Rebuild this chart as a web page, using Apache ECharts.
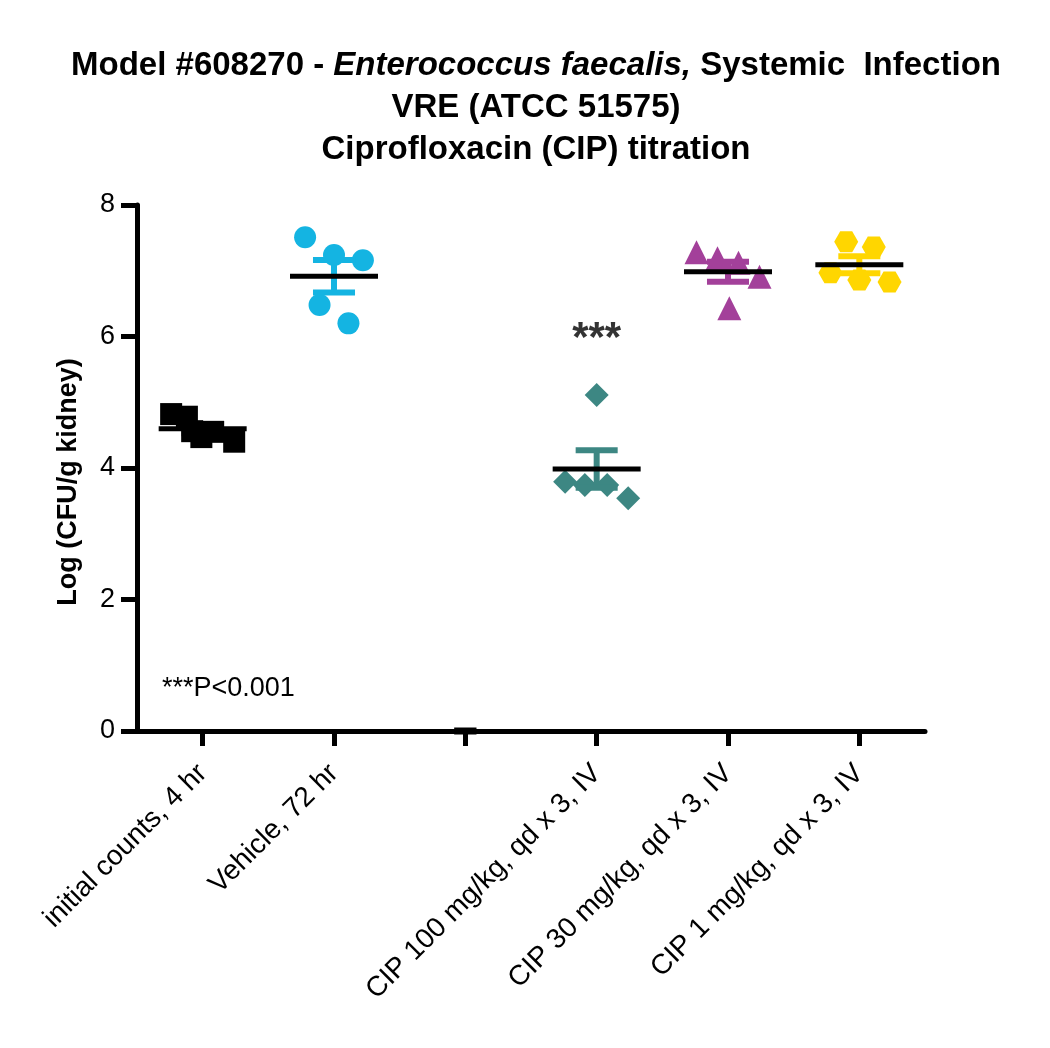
<!DOCTYPE html>
<html>
<head>
<meta charset="utf-8">
<script src="https://cdn.jsdelivr.net/npm/echarts@6/dist/echarts.min.js"></script>
<style>
    html, body { margin: 0; padding: 0; background: #fff; }
    #chart { width: 1050px; height: 1048px; }
</style>
</head>
<body>
<div id="chart"></div>
<script>
// groups on the x axis (third column is empty in the original)
var categories = ['initial counts, 4 hr', 'Vehicle, 72 hr', '', 'CIP 100 mg/kg, qd x 3, IV', 'CIP 30 mg/kg, qd x 3, IV', 'CIP 1 mg/kg, qd x 3, IV'];
var yTicks = [0, 2, 4, 6, 8];

// Log CFU/g kidney per animal
var initialCounts = [4.82, 4.78, 4.56, 4.47, 4.55, 4.40];
var vehicle = [7.51, 7.24, 7.16, 6.48, 6.20];
var emptyGroup = [];
var cip100 = [5.11, 3.79, 3.74, 3.74, 3.54];
var cip30 = [7.28, 7.19, 7.12, 6.91, 6.43];
var cip1 = [7.44, 7.36, 6.97, 6.86, 6.83];

// horizontal scatter offsets inside each column (in category widths)
var initialJitter = [-0.24, -0.12, -0.08, -0.01, 0.08, 0.24];
var vehicleJitter = [-0.22, 0, 0.22, -0.11, 0.11];
var cip100Jitter = [0, -0.24, -0.09, 0.08, 0.24];
var cip30Jitter = [-0.24, -0.08, 0.08, 0.24, 0.01];
var cip1Jitter = [-0.10, 0.11, -0.22, 0, 0.23];

var sigLabels = ['', '', '', '***', '', ''];

var groups = [initialCounts, vehicle, emptyGroup, cip100, cip30, cip1];
var jitters = [initialJitter, vehicleJitter, [], cip100Jitter, cip30Jitter, cip1Jitter];
var colors = ['#000000', '#14B4E2', '#000000', '#3D8783', '#A3409A', '#FFD600'];
var symbols = ['rect', 'circle', 'rect', 'diamond', 'triangle', 'path://M0,50 L25,7 L75,7 L100,50 L75,93 L25,93 Z'];
var sizes = [22, 22, 22, 24, 24, [24, 21]];

var font = 'Liberation Sans, Arial, sans-serif';

function mean(a) {
    if (a.length == 0) return 0;
    var s = 0;
    for (var i = 0; i < a.length; i++) s += a[i];
    return s / a.length;
}
function sem(a) {
    if (a.length < 2) return 0;
    var m = mean(a), ss = 0;
    for (var i = 0; i < a.length; i++) ss += (a[i] - m) * (a[i] - m);
    return Math.sqrt(ss / (a.length - 1)) / Math.sqrt(a.length);
}

var series = [];
var summary = [];
for (var g = 0; g < groups.length; g++) {
    var pts = [];
    for (var k = 0; k < groups[g].length; k++) {
        pts.push([g + jitters[g][k], groups[g][k]]);
    }
    series.push({
        name: categories[g],
        type: 'scatter',
        xAxisIndex: 1,
        symbol: symbols[g],
        symbolSize: sizes[g],
        itemStyle: {color: colors[g], opacity: 1},
        data: pts,
        z: 2
    });
    summary.push([g, mean(groups[g]), sem(groups[g]), groups[g].length]);
}

// mean line + SEM whiskers
series.push({
    type: 'custom',
    xAxisIndex: 1,
    clip: false,
    z: 3,
    data: summary,
    renderItem: function (params, api) {
        var x = api.value(0), m = api.value(1), s = api.value(2), n = api.value(3);
        var band = api.size([1, 0])[0];
        var c = api.coord([x, m]);
        var top = api.coord([x, m + s]);
        var bot = api.coord([x, m - s]);
        var color = colors[x];
        var halfMean = n > 0 ? band * 0.335 : band * 0.085;
        var halfCap = band * 0.16;
        var children = [];
        if (n > 1) {
            var st = {stroke: color, lineWidth: 6};
            children.push({type: 'line', shape: {x1: c[0], y1: top[1], x2: c[0], y2: bot[1]}, style: st});
            children.push({type: 'line', shape: {x1: c[0] - halfCap, y1: top[1], x2: c[0] + halfCap, y2: top[1]}, style: st});
            children.push({type: 'line', shape: {x1: c[0] - halfCap, y1: bot[1], x2: c[0] + halfCap, y2: bot[1]}, style: st});
        }
        children.push({
            type: 'line',
            shape: {x1: c[0] - halfMean, y1: c[1], x2: c[0] + halfMean, y2: c[1]},
            style: {stroke: '#000', lineWidth: n > 0 ? 5 : 7}
        });
        return {type: 'group', children: children};
    }
});

// significance marks
var sigData = [];
for (var i = 0; i < sigLabels.length; i++) {
    if (sigLabels[i]) sigData.push({value: [i, 5.95], label: {formatter: sigLabels[i]}});
}
series.push({
    type: 'scatter',
    xAxisIndex: 1,
    symbolSize: 0,
    z: 4,
    label: {
        show: true,
        position: 'inside',
        color: '#000',
        textBorderWidth: 0,
        fontFamily: font,
        fontWeight: 'bold',
        fontSize: 42
    },
    data: sigData
});

var chart = echarts.init(document.getElementById('chart'));
chart.setOption({
    animation: false,
    backgroundColor: '#fff',
    title: {
        left: 531,
        textAlign: 'center',
        top: 40,
        text: '{b|Model #608270 - }{i|Enterococcus faecalis,}{b| Systemic  Infection}\n{b|VRE (ATCC 51575)}\n{b|Ciprofloxacin (CIP) titration}',
        textStyle: {
            rich: {
                b: {fontFamily: font, fontWeight: 'bold', fontSize: 33, color: '#000', lineHeight: 42},
                i: {fontFamily: font, fontWeight: 'bold', fontStyle: 'italic', fontSize: 33, color: '#000', lineHeight: 42}
            }
        }
    },
    graphic: [{
        type: 'text',
        left: 162,
        top: 675,
        style: {text: '***P<0.001', font: '27px ' + font, fill: '#000'}
    }],
    grid: {left: 137, right: 125, top: 205, bottom: 317, containLabel: false},
    xAxis: [{
        type: 'category',
        data: categories,
        boundaryGap: true,
        axisLine: {show: true, lineStyle: {color: '#000', width: 5}},
        axisTick: {show: true, alignWithLabel: true, length: 15, lineStyle: {color: '#000', width: 5}},
        axisLabel: {
            rotate: 45,
            margin: 38,
            interval: 0,
            color: '#000',
            fontFamily: font,
            fontSize: 28
        },
        splitLine: {show: false}
    }, {
        type: 'value',
        min: -0.5,
        max: 5.5,
        show: false,
        splitLine: {show: false}
    }],
    yAxis: {
        type: 'value',
        min: yTicks[0],
        max: yTicks[yTicks.length - 1],
        interval: 2,
        name: 'Log (CFU/g kidney)',
        nameLocation: 'middle',
        nameGap: 55,
        nameTextStyle: {fontFamily: font, fontWeight: 'bold', fontSize: 27, color: '#000', padding: [0, 28, 0, 0]},
        axisLine: {show: true, onZero: false, lineStyle: {color: '#000', width: 5}},
        axisTick: {show: true, length: 16, lineStyle: {color: '#000', width: 5}},
        axisLabel: {color: '#000', fontFamily: font, fontSize: 27, margin: 22},
        splitLine: {show: false}
    },
    series: series
});
</script>
</body>
</html>
